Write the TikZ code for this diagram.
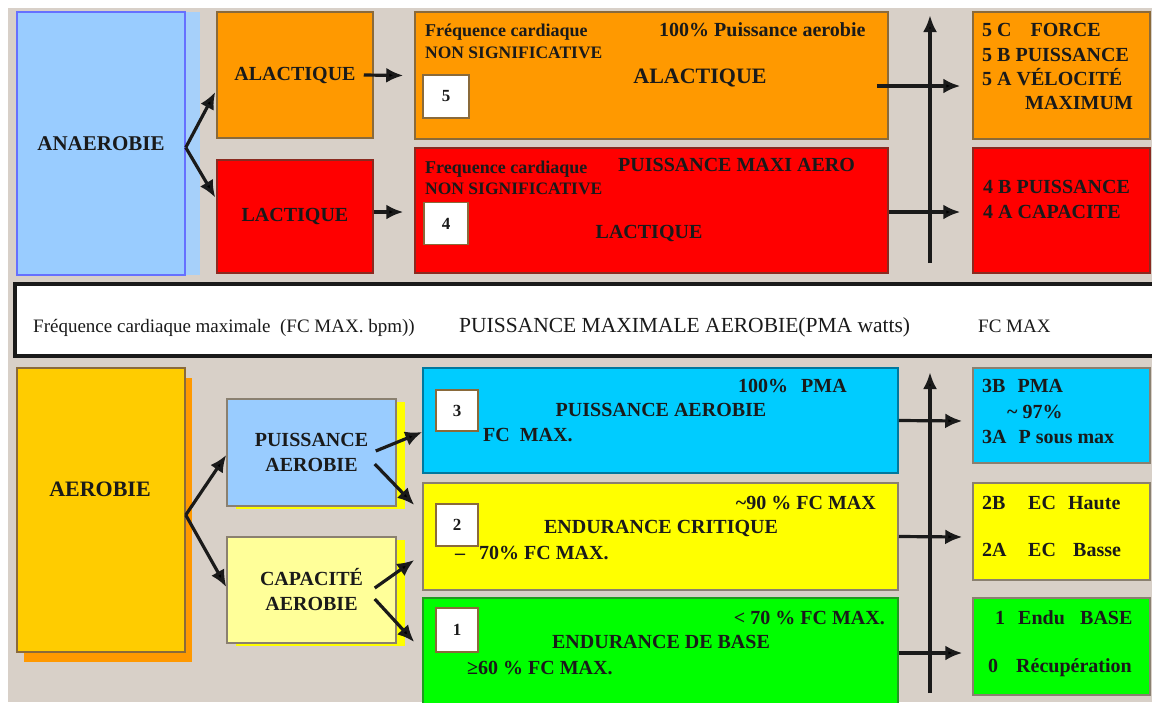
\documentclass[tikz,border=0pt]{standalone}
\usepackage{fontspec}
\setmainfont{Liberation Serif}
\usetikzlibrary{arrows.meta,calc,shadows}

\definecolor{bgGray}{HTML}{D8D0C8}
\definecolor{skyBlue}{HTML}{99CCFF}
\definecolor{skyEdge}{HTML}{6670FF}
\definecolor{skyStripe}{HTML}{A6D0FA}
\definecolor{orangeA}{HTML}{FF9900}
\definecolor{redL}{HTML}{FF0000}
\definecolor{goldA}{HTML}{FFCC00}
\definecolor{cyanB}{HTML}{00CCFF}
\definecolor{yellowY}{HTML}{FFFF00}
\definecolor{paleY}{HTML}{FFFF99}
\definecolor{greenG}{HTML}{00FF00}
\definecolor{edgeBrown}{HTML}{8A6A3A}
\definecolor{edgeGray}{HTML}{8A8070}
\definecolor{edgeRed}{HTML}{8A2A20}
\definecolor{edgeTeal}{HTML}{00789E}
\definecolor{edgeGreen}{HTML}{1F9A1F}
\definecolor{inkDark}{HTML}{1A1A1A}

\tikzset{
    box/.style={draw=#1, line width=1.5pt, inner sep=0pt, text=inkDark, align=center,
        font=\fontsize{20}{25}\selectfont\bfseries},
    numbox/.style={draw=edgeBrown, fill=white, line width=1.5pt, inner sep=0pt,
        minimum width=44pt, minimum height=42pt, text=inkDark,
        font=\fontsize{17}{17}\selectfont\bfseries},
    lbl/.style={inner sep=0pt, text height=13pt, text depth=0pt, text=inkDark,
        font=\fontsize{#1}{#1}\selectfont\bfseries},
    lbl/.default=20,
    col/.style={inner sep=0pt, align=left, anchor=north west, text=inkDark,
        font=\fontsize{20}{#1}\selectfont\bfseries},
    bandtxt/.style={inner sep=0pt, text height=13pt, text depth=0pt, anchor=west,
        text=inkDark, font=\fontsize{#1}{#1}\selectfont},
    arrline/.style={line width=3.2pt, draw=inkDark, >={Latex[length=17pt,width=15pt]}},
    upline/.style={line width=3.4pt, draw=inkDark, >={Latex[length=17pt,width=14pt]}}
}

\begin{document}
\begin{tikzpicture}[x=1pt, y=-1pt]
\path[use as bounding box, fill=white] (0,0) rectangle (1152,702);
\fill[bgGray] (8,8) rectangle (1152,702);

\node[box=skyEdge, fill=skyBlue, general shadow={fill=skyStripe, shadow xshift=15pt, shadow yshift=0pt},
    minimum width=168pt, minimum height=263pt, font=\fontsize{21}{25}\selectfont\bfseries] (anaer) at (101, 143.5) {ANAEROBIE};
\node[box=edgeBrown, fill=orangeA, minimum width=156pt, minimum height=126pt] (alact) at (295, 75) {ALACTIQUE};
\node[box=edgeRed, fill=redL, minimum width=156pt, minimum height=113pt] (lact) at (295, 216.5) {LACTIQUE};
\node[box=edgeBrown, fill=orangeA, minimum width=473pt, minimum height=127pt] (bigA) at (651.5, 75.5) {};
\node[box=edgeRed, fill=redL, minimum width=473pt, minimum height=125pt] (bigL) at (651.5, 210.5) {};
\node[box=edgeBrown, fill=orangeA, minimum width=177pt, minimum height=127pt] (rA) at (1061.5, 75.5) {};
\node[box=edgeRed, fill=redL, minimum width=177pt, minimum height=125pt] (rL) at (1061.5, 210.5) {};

\node[numbox, minimum width=46pt, minimum height=43pt] (n5) at (446, 96.5) {5};
\node[numbox] (n4) at (446, 223.5) {4};

\node[lbl=18, anchor=west] (fcA) at (425, 30) {Fréquence cardiaque};
\node[lbl=17.5, anchor=west] (nsA) at (425, 52) {NON SIGNIFICATIVE};
\node[lbl=20, anchor=west] (paA) at (659, 30) {100\% Puissance aerobie};
\node[lbl=22] (alA) at (700, 77) {ALACTIQUE};
\node[lbl=18, anchor=west] (fcL) at (425, 167) {Frequence cardiaque};
\node[lbl=20, anchor=west] (pmL) at (618, 165) {PUISSANCE MAXI AERO};
\node[lbl=17.5, anchor=west] (nsL) at (425, 188) {NON SIGNIFICATIVE};
\node[lbl=20] (laL) at (649, 232) {LACTIQUE};

\node[col=24.3] (r5txt) at (982, 23.4) {5 C\hspace{19pt}FORCE\\5 B PUISSANCE\\5 A VÉLOCITÉ\\\hspace*{43pt}MAXIMUM};
\node[col=25] (r4txt) at (983, 180.4) {4 B PUISSANCE\\4 A CAPACITE};

\node[fill=white, inner sep=0pt, minimum width=1145pt, minimum height=72pt] (band) at (587.5, 320) {};
\draw[line width=3.5pt, draw=inkDark] (band.north east) -- (band.north west) -- (band.south west) -- (band.south east);
\node[bandtxt=19] (bFc) at (33, 326) {Fréquence cardiaque maximale\ \ (FC MAX. bpm))};
\node[bandtxt=21.5] (bPma) at (459, 326) {PUISSANCE MAXIMALE AEROBIE(PMA watts)};
\node[bandtxt=19] (bMax) at (978, 326) {FC MAX};

\node[box=edgeBrown, fill=goldA, general shadow={fill=orangeA, shadow xshift=7pt, shadow yshift=-10pt},
    minimum width=168pt, minimum height=284pt] (aero) at (101, 510) {};
\node[lbl=22] (aeroTxt) at (100, 490) {AEROBIE};
\node[box=edgeGray, fill=skyBlue, general shadow={fill=yellowY, shadow xshift=9pt, shadow yshift=-3pt},
    minimum width=169pt, minimum height=107pt] (puis) at (311.5, 452.5) {PUISSANCE\\AEROBIE};
\node[box=edgeGray, fill=paleY, general shadow={fill=yellowY, shadow xshift=9pt, shadow yshift=-3pt},
    minimum width=169pt, minimum height=106pt] (capa) at (311.5, 590) {CAPACITÉ\\AEROBIE};

\node[box=edgeTeal, fill=cyanB, minimum width=475pt, minimum height=105pt] (bigB) at (660.5, 420.5) {};
\node[box=edgeGray, fill=yellowY, minimum width=475pt, minimum height=107pt] (bigY) at (660.5, 536.5) {};
\node[box=edgeGreen, fill=greenG, minimum width=475pt, minimum height=114pt] (bigG) at (660.5, 655) {};
\node[box=edgeGray, fill=cyanB, minimum width=177pt, minimum height=95pt] (rB) at (1061.5, 415.5) {};
\node[box=edgeGray, fill=yellowY, minimum width=177pt, minimum height=97pt] (rY) at (1061.5, 531.5) {};
\node[box=edgeGray, fill=greenG, minimum width=177pt, minimum height=97pt] (rG) at (1061.5, 646.5) {};

\node[numbox, minimum width=42pt, minimum height=41pt] (n3) at (457, 410.5) {3};
\node[numbox, minimum width=42pt, minimum height=42pt] (n2) at (457, 525) {2};
\node[numbox, minimum width=42pt, minimum height=44pt] (n1) at (457, 630) {1};

\node[lbl=20, anchor=west] (pmB) at (738, 386) {100\%\hspace{13pt}PMA};
\node[lbl=20] (paB) at (661, 410) {PUISSANCE AEROBIE};
\node[lbl=20, anchor=west] (fcB) at (483, 435) {FC\hspace{10pt}MAX.};
\node[lbl=20, anchor=east] (fcY) at (876, 503) {\textasciitilde90 \% FC MAX};
\node[lbl=20] (ecY) at (661, 527) {ENDURANCE CRITIQUE};
\node[lbl=20, anchor=west] (lwY) at (455, 553) {--\hspace{14pt}70\% FC MAX.};
\node[lbl=20, anchor=east] (fcG) at (885, 618) {< 70 \% FC MAX.};
\node[lbl=20] (ebG) at (661, 642) {ENDURANCE DE BASE};
\node[lbl=20, anchor=west] (lwG) at (467, 668) {≥60 \% FC MAX.};

\node[col=25.5] (r3txt) at (982, 379.4) {3B\hspace{12pt}PMA\\\hspace*{25pt}\textasciitilde\ 97\%\\3A\hspace{12pt}P sous max};
\node[col=47] (r2txt) at (982, 496.4) {\makebox[46pt][l]{2B}\makebox[40pt][l]{EC}Haute\\\makebox[46pt][l]{2A}\makebox[45pt][l]{EC}Basse};
\node[col=48] (r1txt) at (988, 610.4) {\hspace*{7pt}\makebox[23pt][l]{1}\makebox[62pt][l]{Endu}BASE\\\makebox[28pt][l]{0}Récupération};

\coordinate (upTop) at (930, 15);
\coordinate (upBot) at (930, 263);
\coordinate (loTop) at (930, 372);
\coordinate (loBot) at (930, 693);

\draw[upline]
    (upBot) edge[->] (upTop)
    (loBot) edge[->] (loTop);

\draw[arrline]
    ($(anaer.east)+(0,4)$) edge[->] ($(alact.west)+(-1,17)$)
    ($(anaer.east)+(0,4)$) edge[->] ($(lact.west)+(-1,-19)$)
    ($(alact.east)+(-10,0)$) edge[->] ($(bigA.west)+(-11,0)$)
    ($(lact.east)+(0,-4.5)$) edge[->] ($(bigL.west)+(-11,1.5)$)
    ($(bigA.east)+(-12,10.5)$) edge[->] ($(rA.west)+(-12,10.5)$)
    ($(bigL.east)+(0,1.5)$) edge[->] ($(rL.west)+(-12,1.5)$)
    ($(aero.east)+(0,5)$) edge[->] ($(puis.west)+(0,2.5)$)
    ($(aero.east)+(0,5)$) edge[->] ($(capa.west)+(0,-3)$)
    ($(puis.east)+(-21,-1.5)$) edge[->] ($(bigB.west)+(0,11.5)$)
    ($(puis.east)+(-22,11.5)$) edge[->] ($(bigY.west)+(-8,-31.5)$)
    ($(capa.east)+(-22,-2)$) edge[->] ($(bigY.west)+(-8,23.5)$)
    ($(capa.east)+(-22,9)$) edge[->] ($(bigG.west)+(-8,-13)$)
    (bigB.east) edge[->] ($(rB.west)+(-10,5.5)$)
    (bigY.east) edge[->] ($(rY.west)+(-10,5.5)$)
    ($(bigG.east)+(0,-2)$) edge[->] ($(rG.west)+(-10,6.5)$);
\end{tikzpicture}
\end{document}
